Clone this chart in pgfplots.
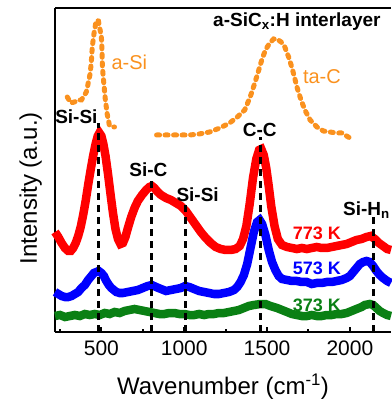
\documentclass[border=0pt]{standalone}
\usepackage{fontspec}
\setmainfont{Liberation Sans}
\usepackage{pgfplots}
\pgfplotsset{compat=1.18}
\definecolor{cred}{RGB}{255,0,0}
\definecolor{cblue}{RGB}{0,0,255}
\definecolor{cgreen}{RGB}{10,128,20}
\definecolor{corange}{RGB}{250,145,30}
\begin{document}
\begin{tikzpicture}
\begin{axis}[
  scale only axis, width=336pt, height=324pt,
  xmin=220, xmax=2248, ymin=0, ymax=324,
  axis x line*=box, axis y line*=left,
  axis line style={line width=2pt, black},
  xtick={500,1000,1500,2000},
  minor xtick={250,750,1250,1750},
  xtick pos=bottom,
  ytick=\empty,
  tick align=inside,
  major tick length=5pt, minor tick length=3pt,
  every tick/.style={black, line width=2pt},
  tick label style={font=\fontsize{21}{25}\selectfont},
  xticklabel style={yshift=-5pt},
  /pgf/number format/assume math mode=true,
  /pgf/number format/1000 sep={},
  xlabel={Wavenumber (cm\textsuperscript{-1})},
  ylabel={Intensity (a.u.)},
  label style={font=\fontsize{24}{28}\selectfont},
  xlabel style={at={(axis description cs:0.5,-0.1944)}, anchor=base},
  ylabel style={at={(axis description cs:-0.0536,0.444)}, anchor=base},
  clip=false,
]
% 373 K
\addplot[cgreen, line width=8.5pt] coordinates {
(220,16) (250,17) (280,15) (310,16) (340,17) (370,16) (400,18) (430,17) (460,18) (490,17)
(520,19) (550,18) (580,20) (610,19) (640,21) (670,22) (700,23) (730,22) (760,21) (790,20)
(820,19) (850,18) (880,18) (910,19) (940,19) (970,18) (1000,18) (1030,17) (1060,17) (1090,18)
(1120,17) (1150,18) (1180,18) (1210,19) (1240,19) (1270,20) (1300,21) (1330,22) (1360,24) (1390,26)
(1420,27) (1460,28) (1490,28) (1520,26) (1560,24) (1590,22) (1620,20) (1650,18) (1680,17) (1710,16)
(1740,16) (1770,17) (1800,16) (1830,16) (1860,17) (1890,17) (1920,18) (1950,18) (1980,19) (2010,21)
(2040,23) (2070,25) (2090,27) (2120,28) (2140,27) (2160,24) (2180,21) (2200,19) (2225,17) (2248,16)
};
% 573 K
\addplot[cblue, line width=8.5pt] coordinates {
(220,40) (240,38) (260,36) (280,35) (300,35) (320,36) (340,38) (360,40) (380,44) (400,47)
(420,52) (440,56) (455,59) (470,60) (484,61) (500,59) (515,56) (530,51) (545,47) (560,44)
(575,42) (590,40) (610,39) (630,39) (660,40) (690,41) (720,42) (750,44) (780,46) (805,47)
(830,45) (860,43) (890,41) (920,42) (950,43) (980,44) (1005,46) (1030,45) (1060,43) (1090,41)
(1120,40) (1150,39) (1180,38) (1210,38) (1240,39) (1270,40) (1300,42) (1320,45) (1340,50) (1360,57)
(1380,68) (1400,84) (1420,100) (1440,110) (1455,112) (1470,108) (1490,97) (1510,82) (1530,70) (1550,62)
(1570,56) (1590,53) (1620,52) (1650,51) (1680,51) (1710,50) (1740,50) (1770,48) (1800,49) (1830,49)
(1860,50) (1890,50) (1920,51) (1950,52) (1980,54) (2000,56) (2020,60) (2040,64) (2060,68) (2080,70)
(2100,71) (2120,70) (2140,66) (2160,61) (2180,57) (2200,54) (2225,51) (2248,49)
};
% 773 K
\addplot[cred, line width=8.5pt] coordinates {
(220,100) (240,95) (260,89) (280,84) (300,81) (315,81) (330,84) (345,89) (360,96) (375,105)
(390,117) (405,131) (420,147) (435,162) (450,176) (465,188) (478,196) (488,199) (500,196) (512,188)
(525,176) (540,158) (555,138) (570,119) (585,103) (600,93) (615,88) (630,89) (645,95) (660,104)
(680,115) (700,124) (720,131) (745,137) (770,142) (790,145) (805,146) (820,144) (840,140) (860,137)
(890,134) (920,132) (950,129) (980,126) (1010,121) (1040,114) (1070,107) (1100,100) (1130,94) (1160,89)
(1190,85) (1220,83) (1250,82) (1280,82) (1310,83) (1335,86) (1355,93) (1375,106) (1395,128) (1415,154)
(1435,173) (1452,182) (1465,183) (1480,177) (1495,164) (1510,146) (1525,126) (1545,106) (1565,93) (1590,87)
(1620,85) (1650,84) (1680,83) (1710,84) (1740,83) (1770,84) (1800,85) (1830,84) (1860,84) (1890,85)
(1920,86) (1950,87) (1980,88) (2010,90) (2040,92) (2070,93) (2100,95) (2125,96) (2150,93) (2175,89)
(2200,86) (2225,83) (2248,82)
};
% dashed reference lines (on top of the spectra)
\addplot[black, line width=2.5pt, dash pattern=on 7pt off 5pt] coordinates {(484,0) (484,209)};
\addplot[black, line width=2.5pt, dash pattern=on 7pt off 5pt] coordinates {(801,0) (801,152)};
\addplot[black, line width=2.5pt, dash pattern=on 7pt off 5pt] coordinates {(1008,0) (1008,130)};
\addplot[black, line width=2.5pt, dash pattern=on 7pt off 5pt] coordinates {(1460,0) (1460,195)};
\addplot[black, line width=2.5pt, dash pattern=on 7pt off 5pt] coordinates {(2141,0) (2141,116)};
% a-Si reference (dotted)
\addplot[corange, line width=5pt, line cap=round, dash pattern=on 3pt off 5.5pt] coordinates {
(294,235) (315,229) (337,230) (360,232) (379,232) (395,236) (409,240) (422,250) (433,259) (440,272)
(445,285) (455,298) (465,308) (472,312) (482,311) (490,304) (500,295) (504,280) (506,265) (515,248)
(524,232) (535,218) (548,207) (562,205) (579,205)
};
% ta-C reference (dotted)
\addplot[corange, line width=5pt, line cap=round, dash pattern=on 3pt off 5.5pt] coordinates {
(833,197) (900,197) (960,197) (1032,197) (1090,198) (1153,200) (1215,204) (1274,209) (1320,215) (1365,222)
(1400,236) (1426,249) (1450,262) (1468,272) (1490,282) (1516,289) (1540,293) (1559,293) (1585,290) (1607,285)
(1630,275) (1649,265) (1665,255) (1680,245) (1705,232) (1728,222) (1760,212) (1801,205) (1840,201) (1879,200)
(1920,199) (1952,199) (1980,196) (2000,194)
};
% annotations
\node[font=\fontsize{19}{22}\selectfont\bfseries] at (axis cs:1680,310) {a-SiC\textsubscript{x}:H interlayer};
\node[font=\fontsize{20}{24}\selectfont, text=corange] at (axis cs:669,270) {a-Si};
\node[font=\fontsize{20}{24}\selectfont, text=corange] at (axis cs:1831,255) {ta-C};
\node[font=\fontsize{19}{22}\selectfont\bfseries] at (axis cs:349,215) {Si-Si};
\node[font=\fontsize{19}{22}\selectfont\bfseries] at (axis cs:784,162) {Si-C};
\node[font=\fontsize{19}{22}\selectfont\bfseries] at (axis cs:1081,137) {Si-Si};
\node[font=\fontsize{19}{22}\selectfont\bfseries] at (axis cs:1456,202) {C-C};
\node[font=\fontsize{19}{22}\selectfont\bfseries, anchor=west, inner sep=0pt] at (axis cs:1958,122) {Si-H\textsubscript{n}};
\node[font=\fontsize{18}{22}\selectfont\bfseries, text=cred] at (axis cs:1801,99) {773 K};
\node[font=\fontsize{18}{22}\selectfont\bfseries, text=cblue] at (axis cs:1801,64) {573 K};
\node[font=\fontsize{18}{22}\selectfont\bfseries, text=cgreen] at (axis cs:1801,27) {373 K};
\end{axis}
\pgfresetboundingbox
\path[use as bounding box] ([xshift=-55pt,yshift=-71pt]current axis.south west) rectangle ([yshift=8pt]current axis.north east);
\end{tikzpicture}
\end{document}
